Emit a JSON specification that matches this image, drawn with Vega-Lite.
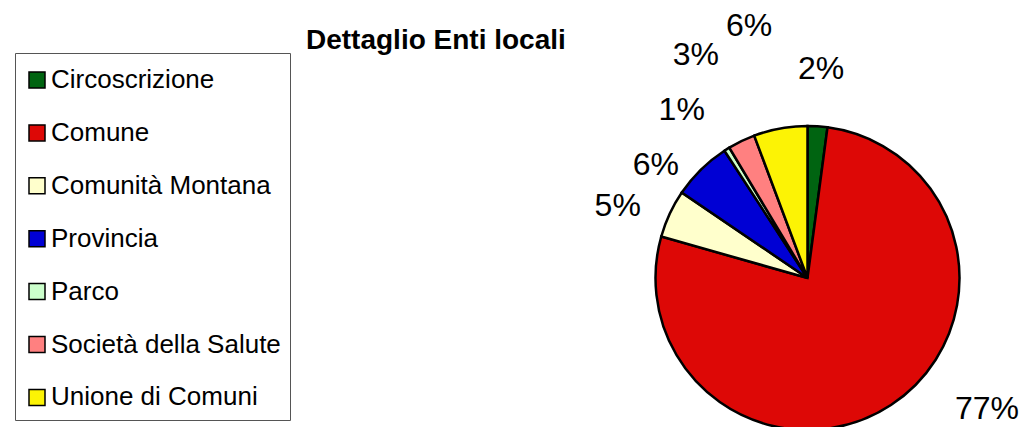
{
  "$schema": "https://vega.github.io/schema/vega-lite/v6.json",
  "width": 305,
  "height": 298,
  "autosize": {"type": "none"},
  "padding": {"left": 655, "top": 129, "right": 67, "bottom": 0},
  "background": "white",
  "title": {
    "text": "Dettaglio Enti locali",
    "anchor": "start",
    "frame": "group",
    "dx": -349,
    "dy": 79,
    "font": "Liberation Sans",
    "fontSize": 28,
    "fontWeight": "bold",
    "color": "black"
  },
  "config": {"view": {"stroke": null}},
  "data": {
    "values": [
      {"n": 1, "Ente": "Circoscrizione", "share": 0.021},
      {"n": 2, "Ente": "Comune", "share": 0.773},
      {"n": 3, "Ente": "Comunità Montana", "share": 0.051},
      {"n": 4, "Ente": "Provincia", "share": 0.063},
      {"n": 5, "Ente": "Parco", "share": 0.006},
      {"n": 6, "Ente": "Società della Salute", "share": 0.029},
      {"n": 7, "Ente": "Unione di Comuni", "share": 0.057}
    ]
  },
  "encoding": {
    "theta": {"field": "share", "type": "quantitative", "stack": true},
    "order": {"field": "n", "type": "quantitative"},
    "detail": {"field": "Ente", "type": "nominal"}
  },
  "layer": [
    {
      "mark": {"type": "arc", "outerRadius": 152, "stroke": "black", "strokeWidth": 2.5},
      "encoding": {
        "color": {
          "field": "Ente",
          "type": "nominal",
          "scale": {
            "domain": ["Circoscrizione", "Comune", "Comunità Montana", "Provincia", "Parco", "Società della Salute", "Unione di Comuni"],
            "range": ["#006411", "#DD0806", "#FFFFCC", "#0000D4", "#CCFFCC", "#FF8080", "#FCF305"]
          },
          "legend": {
            "orient": "none",
            "legendX": -640,
            "legendY": -76,
            "title": " ",
            "titleFontSize": 1,
            "titlePadding": 4,
            "labelFont": "Liberation Sans",
            "labelFontSize": 26,
            "labelColor": "black",
            "labelLimit": 400,
            "labelOffset": 1,
            "symbolType": "square",
            "symbolSize": 256,
            "symbolStrokeColor": "black",
            "symbolStrokeWidth": 1.5,
            "symbolOpacity": 1,
            "rowPadding": 26.9,
            "padding": 9,
            "strokeColor": "#555555"
          }
        }
      }
    },
    {
      "mark": {"type": "text", "radius": 205, "dy": -4, "font": "Liberation Sans", "fontSize": 32, "fill": "black"},
      "encoding": {"text": {"condition": {"test": "datum.Ente === 'Circoscrizione'", "field": "share", "type": "quantitative", "format": ".0%"}, "value": ""}}
    },
    {
      "mark": {"type": "text", "radius": 205, "dx": -17, "dy": 6, "font": "Liberation Sans", "fontSize": 32, "fill": "black"},
      "encoding": {"text": {"condition": {"test": "datum.Ente === 'Parco'", "field": "share", "type": "quantitative", "format": ".0%"}, "value": ""}}
    },
    {
      "mark": {"type": "text", "radius": 205, "dx": -8, "dy": 33, "font": "Liberation Sans", "fontSize": 32, "fill": "black"},
      "encoding": {"text": {"condition": {"test": "datum.Ente === 'Provincia'", "field": "share", "type": "quantitative", "format": ".0%"}, "value": ""}}
    },
    {
      "mark": {"type": "text", "radius": 205, "dx": -4, "dy": 15, "font": "Liberation Sans", "fontSize": 32, "fill": "black"},
      "encoding": {"text": {"condition": {"test": "datum.Ente === 'Comunità Montana'", "field": "share", "type": "quantitative", "format": ".0%"}, "value": ""}}
    },
    {
      "mark": {"type": "text", "radius": 255, "dx": -1, "dy": 7, "font": "Liberation Sans", "fontSize": 32, "fill": "black"},
      "encoding": {"text": {"condition": {"test": "datum.Ente === 'Società della Salute'", "field": "share", "type": "quantitative", "format": ".0%"}, "value": ""}}
    },
    {
      "mark": {"type": "text", "radius": 255, "dx": -13, "dy": -1, "font": "Liberation Sans", "fontSize": 32, "fill": "black"},
      "encoding": {"text": {"condition": {"test": "datum.Ente === 'Unione di Comuni'", "field": "share", "type": "quantitative", "format": ".0%"}, "value": ""}}
    },
    {
      "mark": {"type": "text", "radius": 225, "dx": 56, "dy": -57, "font": "Liberation Sans", "fontSize": 32, "fill": "black"},
      "encoding": {"text": {"condition": {"test": "datum.Ente === 'Comune'", "field": "share", "type": "quantitative", "format": ".0%"}, "value": ""}}
    }
  ]
}
